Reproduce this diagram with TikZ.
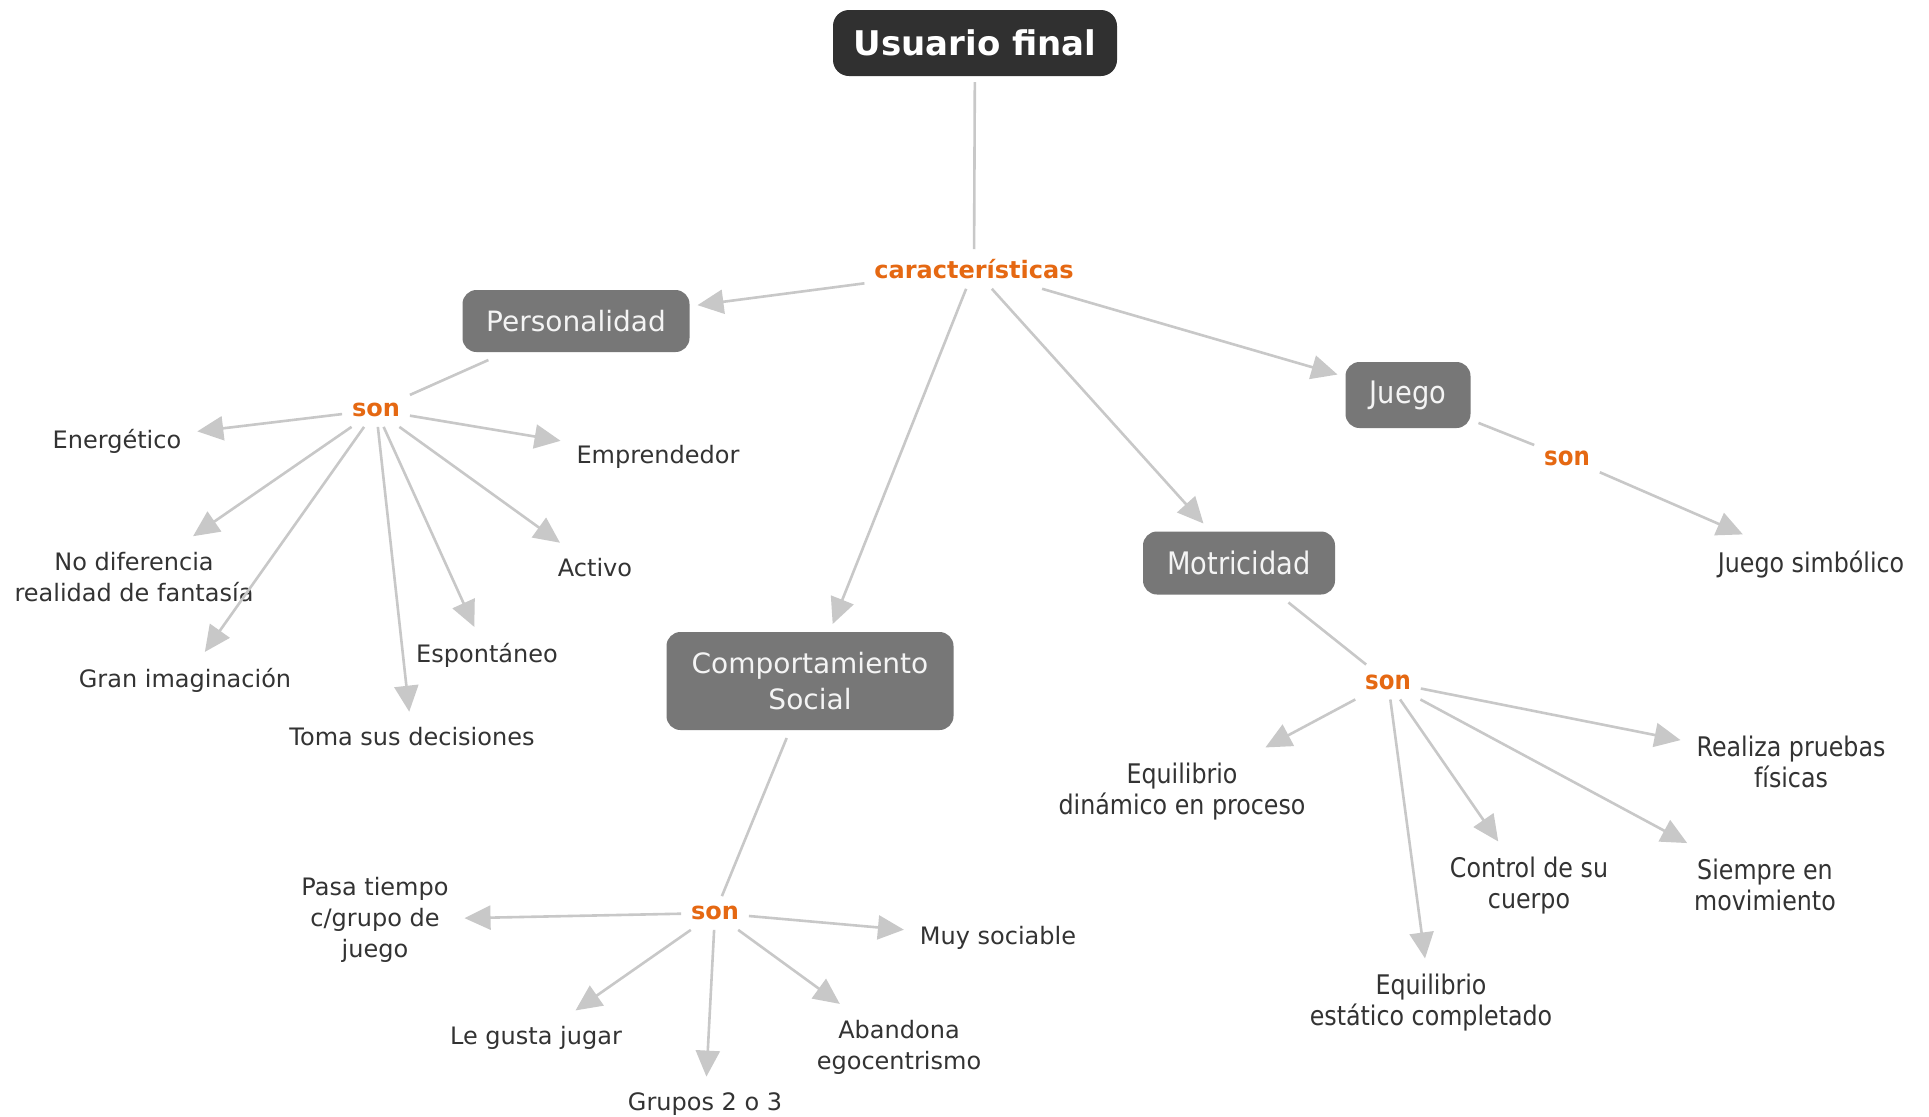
\documentclass[tikz,border=0pt]{standalone}
\usepackage{fontspec}
\setmainfont{DejaVu Sans}
\newfontfamily\narrowfont[FakeStretch=0.88]{DejaVu Sans}
\usetikzlibrary{arrows.meta}

\definecolor{linkgray}{RGB}{200,200,200}
\definecolor{boxgray}{RGB}{119,119,119}
\definecolor{titledark}{RGB}{48,48,48}
\definecolor{boxtext}{RGB}{244,244,244}
\definecolor{leaftext}{RGB}{51,51,51}
\definecolor{linkorange}{RGB}{229,104,18}

\tikzset{
  titlebox/.style={fill=titledark, text=white, rounded corners=8pt,
    font=\bfseries\fontsize{17}{20}\selectfont, minimum width=142pt,
    minimum height=33pt, outer sep=3pt},
  concept/.style={fill=boxgray, text=boxtext, rounded corners=7pt, align=center,
    font=\fontsize{14}{18}\selectfont, outer sep=4pt},
  rconcept/.style={concept, font=\narrowfont\fontsize{15.5}{18}\selectfont},
  leaf/.style={text=leaftext, align=center, font=\fontsize{12}{15.5}\selectfont,
    inner sep=2pt, outer sep=6pt, yshift=-1.5pt},
  rleaf/.style={leaf, font=\narrowfont\fontsize{13.5}{15.5}\selectfont},
  linkword/.style={text=linkorange, font=\bfseries\fontsize{12}{15}\selectfont,
    inner sep=2pt, outer sep=3pt, yshift=-1.5pt},
  rlinkword/.style={linkword, font=\narrowfont\bfseries\fontsize{13}{15}\selectfont},
  conn/.style={draw=linkgray, line width=1.3pt},
  arr/.style={conn, -{Triangle[length=13pt,width=12pt]}}
}

\begin{document}
\begin{tikzpicture}[x=0.5pt,y=-0.5pt]
\useasboundingbox[fill=white] (0,0) rectangle (1929,1116);

% top concept and its linking phrase
\node[titlebox] (root) at (975,43) {Usuario final};
\node[linkword] (car) at (974,266) {características};

% main concepts
\node[concept, minimum width=113.5pt, minimum height=31pt] (pers) at (576,321) {Personalidad};
\node[concept, minimum width=143.5pt, minimum height=49pt] (comp) at (810,681) {Comportamiento\\Social};
\node[rconcept, minimum width=96pt, minimum height=31.5pt] (motr) at (1239,563) {Motricidad};
\node[rconcept, minimum width=62.5pt, minimum height=33pt] (juego) at (1408,395) {Juego};

% linking words
\node[linkword] (sonP) at (376,407) {son};
\node[linkword] (sonC) at (715,910) {son};
\node[rlinkword] (sonM) at (1388,679) {son};
\node[rlinkword] (sonJ) at (1567,455) {son};

% Personalidad
\node[leaf] (energ) at (117,438) {Energético};
\node[leaf] (empr) at (658,454) {Emprendedor};
\node[leaf] (nodif) at (134,574) {No diferencia\\realidad de fantasía};
\node[leaf] (activo) at (595,565) {Activo};
\node[leaf] (esp) at (487,652) {Espontáneo};
\node[leaf] (gran) at (185,677) {Gran imaginación};
\node[leaf] (toma) at (412,734) {Toma sus decisiones};

% Comportamiento Social
\node[leaf] (pasa) at (375,917) {Pasa tiempo\\c/grupo de\\juego};
\node[leaf] (muy) at (998,935) {Muy sociable};
\node[leaf] (gusta) at (536,1035) {Le gusta jugar};
\node[leaf] (grupos) at (705,1101) {Grupos 2 o 3};
\node[leaf] (aband) at (899,1044) {Abandona\\egocentrismo};

% Motricidad
\node[rleaf] (eqdin) at (1182,789) {Equilibrio\\dinámico en proceso};
\node[rleaf] (realiza) at (1791,759) {Realiza pruebas\\físicas};
\node[rleaf] (control) at (1529,883) {Control de su\\cuerpo};
\node[rleaf] (siempre) at (1765,882) {Siempre en\\movimiento};
\node[rleaf] (eqest) at (1431,1000) {Equilibrio\\estático completado};

% Juego
\node[rleaf] (jsimb) at (1811,561) {Juego simbólico};

% connectors
\draw[conn] (root) -- (car);
\draw[arr] (car) -- (pers);
\draw[arr] (car) -- (comp);
\draw[arr] (car) -- (motr);
\draw[arr] (car) -- (juego);

\draw[conn] (pers) -- (sonP);
\foreach \t in {energ,empr,nodif,activo,esp,gran,toma}
  \draw[arr] (sonP) -- (\t);

\draw[conn] (comp) -- (sonC);
\foreach \t in {pasa,muy,gusta,grupos,aband}
  \draw[arr] (sonC) -- (\t);

\draw[conn] (motr) -- (sonM);
\foreach \t in {eqdin,realiza,control,siempre,eqest}
  \draw[arr] (sonM) -- (\t);

\draw[conn] (juego) -- (sonJ);
\draw[arr] (sonJ) -- (jsimb);
\end{tikzpicture}
\end{document}
